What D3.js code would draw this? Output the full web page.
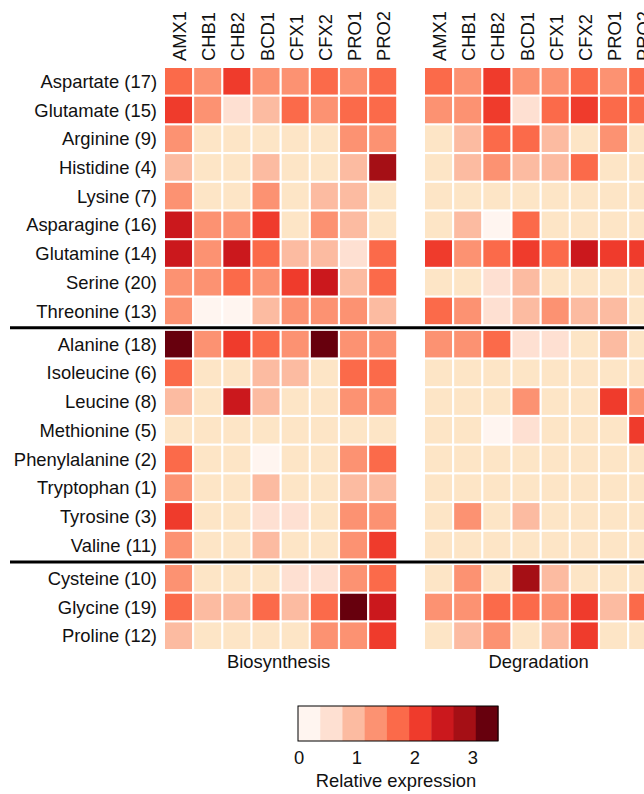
<!DOCTYPE html>
<html>
<head>
<meta charset="utf-8">
<script src="https://cdn.jsdelivr.net/npm/d3@7"></script>
<style>
  body { margin: 0; background: #fff; }
  svg text { font-family: "Liberation Sans", Arial, Helvetica, sans-serif; fill: #111; }
</style>
</head>
<body>
<div id="heatmap"></div>
<script>
/*
Amino acid biosynthesis / degradation heatmaps
*/

var svgWidth = 644,
    svgHeight = 794;

var fontSize = "18.4px";

// Strains (columns) and amino acids (rows), grouped by the black rules
var strains = ["AMX1", "CHB1", "CHB2", "BCD1", "CFX1", "CFX2", "PRO1", "PRO2"];

var aminoAcids = [
    "Aspartate (17)", "Glutamate (15)", "Arginine (9)", "Histidine (4)", "Lysine (7)",
    "Asparagine (16)", "Glutamine (14)", "Serine (20)", "Threonine (13)",
    "Alanine (18)", "Isoleucine (6)", "Leucine (8)", "Methionine (5)", "Phenylalanine (2)",
    "Tryptophan (1)", "Tyrosine (3)", "Valine (11)",
    "Cysteine (10)", "Glycine (19)", "Proline (12)"
];

// which group each row belongs to (0, 1, 2)
var rowGroup = [0,0,0,0,0,0,0,0,0, 1,1,1,1,1,1,1,1, 2,2,2];

// Relative expression, null = no gene in the pathway (beige)
var biosynthesis = [
    [1.75, 1.35, 2.15, 1.40, 1.35, 1.80, 1.40, 1.75],
    [2.10, 1.30, 0.55, 1.00, 1.70, 1.35, 1.75, 1.70],
    [1.35, null, null, null, null, null, 1.35, 1.40],
    [1.00, null, null, 1.05, null, null, 0.95, 2.85],
    [1.40, null, null, 1.35, null, 1.00, 1.05, null],
    [2.50, 1.35, 1.40, 2.10, null, 1.35, 1.00, null],
    [2.55, 1.35, 2.50, 1.75, 1.00, 1.05, 0.60, 1.70],
    [1.35, 1.40, 1.70, 1.35, 2.15, 2.50, 1.00, 1.75],
    [1.40, 0.15, 0.20, 1.00, 1.35, 1.35, 1.40, 1.05],
    [3.30, 1.35, 2.10, 1.75, 1.35, 3.35, 1.40, 1.35],
    [1.75, null, null, 1.00, 1.05, null, 1.70, 1.75],
    [1.00, null, 2.55, 1.05, null, null, 1.35, 1.40],
    [null, null, null, null, null, null, null, null],
    [1.70, null, null, 0.20, null, null, 1.35, 1.75],
    [1.40, null, null, 1.00, null, null, 1.05, 1.00],
    [2.15, null, null, 0.60, 0.55, null, 1.35, 1.40],
    [1.35, null, null, 1.00, null, null, 1.40, 2.10],
    [1.35, null, null, null, 0.60, 0.55, 1.35, 1.75],
    [1.75, 1.00, 1.05, 1.75, 1.00, 1.80, 3.35, 2.50],
    [1.00, null, null, null, null, 1.35, 1.40, 2.15]
];

var degradation = [
    [1.75, 1.35, 2.10, 1.40, 1.35, 1.75, 1.35, 1.70],
    [1.35, 1.40, 2.15, 0.55, 1.75, 2.10, 1.70, 1.75],
    [null, 1.00, 1.70, 1.75, 1.05, null, 1.35, null],
    [null, 1.00, 1.35, 1.05, 1.00, 1.75, null, null],
    [null, null, null, null, null, null, null, null],
    [null, 1.05, 0.20, 1.75, null, null, null, null],
    [2.15, 1.35, 1.75, 2.10, 1.70, 2.55, 2.15, 2.10],
    [null, null, 0.60, 1.00, null, null, null, null],
    [1.75, 1.35, 0.55, 1.00, 1.40, 1.05, 1.00, null],
    [1.35, 1.40, 1.75, 0.60, 0.55, null, 1.00, null],
    [null, null, null, null, null, null, null, null],
    [null, null, null, 1.35, null, null, 2.10, 1.40],
    [null, null, 0.15, 0.60, null, null, null, 2.15],
    [null, null, null, null, null, null, null, null],
    [null, null, null, null, null, null, null, null],
    [null, 1.35, null, 1.00, null, null, null, null],
    [null, null, null, null, null, null, null, null],
    [null, 1.40, null, 2.90, 1.00, null, null, null],
    [1.35, 1.40, 1.75, 1.70, 1.35, 2.10, 1.00, 1.75],
    [null, 1.00, 1.35, null, 1.05, 2.15, null, null]
];

var legendTicks = [0, 1, 2, 3];
var legendMax = 3.45;

var reds = ["#fff5f0", "#fee0d2", "#fcbba1", "#fc9272", "#fb6a4a",
            "#ef3b2c", "#cb181d", "#a50f15", "#67000d"];
var missingColor = "#fde5c6";

var colorScale = d3.scaleQuantize()
    .domain([0, legendMax])
    .range(reds);

var svg = d3.select("#heatmap")
    .append("svg")
        .attr("width", svgWidth)
        .attr("height", svgHeight);

// Rows: band scale plus a small extra gap between groups
var groupGap = 4.5;
var yBand = d3.scaleBand()
    .domain(aminoAcids)
    .range([68, 68 + 20 * 28.6])
    .paddingInner(0.075);

function rowY(name) {
    var i = aminoAcids.indexOf(name);
    return yBand(name) + rowGroup[i] * groupGap;
}

var panels = [
    {title: "Biosynthesis", data: biosynthesis, x0: 165},
    {title: "Degradation", data: degradation, x0: 425}
];

panels.forEach(function(p) {
    var x = d3.scaleBand()
        .domain(strains)
        .range([p.x0, p.x0 + 8 * 28.9])
        .paddingInner(0.075);

    var g = svg.append("g");

    var cells = [];
    aminoAcids.forEach(function(aa, i) {
        strains.forEach(function(s, j) {
            cells.push({row: aa, col: s, value: p.data[i][j]});
        });
    });

    g.selectAll("rect")
        .data(cells)
        .enter()
        .append("rect")
            .attr("x", d => x(d.col))
            .attr("y", d => rowY(d.row))
            .attr("width", x.bandwidth())
            .attr("height", yBand.bandwidth())
            .attr("fill", d => d.value === null ? missingColor : colorScale(d.value));

    // column labels, rotated (the last one runs off the right edge, as in the original)
    g.selectAll(".col-label")
        .data(strains)
        .enter()
        .append("text")
            .attr("class", "col-label")
            .attr("transform", d => `translate(${x(d) + x.bandwidth() / 2 + 1}, 61) rotate(-90)`)
            .attr("dy", "0.36em")
            .attr("font-size", fontSize)
            .attr("text-anchor", "start")
            .text(d => d);

    // panel title
    g.append("text")
        .attr("x", p.x0 + 4 * 28.9 - 2)
        .attr("y", 668)
        .attr("text-anchor", "middle")
        .attr("font-size", fontSize)
        .text(p.title);
});

// row labels
svg.append("g")
    .selectAll("text")
    .data(aminoAcids)
    .enter()
    .append("text")
        .attr("x", 157)
        .attr("y", d => rowY(d) + yBand.bandwidth() / 2)
        .attr("dy", "0.36em")
        .attr("text-anchor", "end")
        .attr("font-size", fontSize)
        .text(d => d);

// black rules between groups
var ruleRows = ["Threonine (13)", "Valine (11)"];
svg.append("g")
    .selectAll("line")
    .data(ruleRows)
    .enter()
    .append("line")
        .attr("x1", 10)
        .attr("x2", svgWidth)
        .attr("y1", d => rowY(d) + yBand.bandwidth() + 3.5)
        .attr("y2", d => rowY(d) + yBand.bandwidth() + 3.5)
        .attr("stroke", "#000")
        .attr("stroke-width", 3);

// Legend
var lx = d3.scaleLinear()
    .domain([0, legendMax])
    .range([298, 498]);

var legend = svg.append("g");
var binWidth = legendMax / reds.length;

legend.selectAll("rect")
    .data(reds)
    .enter()
    .append("rect")
        .attr("x", (d, i) => lx(i * binWidth))
        .attr("y", 706)
        .attr("width", lx(binWidth) - lx(0) + 0.5)
        .attr("height", 35)
        .attr("fill", d => d);

legend.append("rect")
    .attr("x", lx(0))
    .attr("y", 706)
    .attr("width", lx(legendMax) - lx(0))
    .attr("height", 35)
    .attr("fill", "none")
    .attr("stroke", "#000")
    .attr("stroke-width", 1);

legend.selectAll(".tick-label")
    .data(legendTicks)
    .enter()
    .append("text")
        .attr("class", "tick-label")
        .attr("x", d => lx(d) + 1)
        .attr("y", 764)
        .attr("text-anchor", "middle")
        .attr("font-size", fontSize)
        .text(d => d);

legend.append("text")
    .attr("x", 396)
    .attr("y", 787)
    .attr("text-anchor", "middle")
    .attr("font-size", fontSize)
    .text("Relative expression");
</script>
</body>
</html>
